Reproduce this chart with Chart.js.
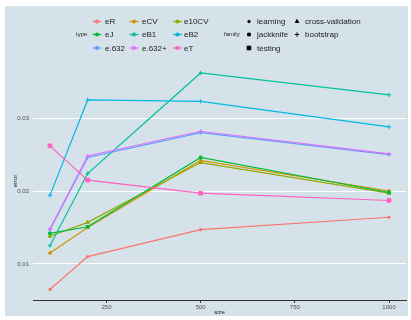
<!DOCTYPE html>
<html>
<head>
<meta charset="utf-8">
<script src="https://cdn.jsdelivr.net/npm/chart.js@4"></script>
<style>
  html, body { margin: 0; padding: 0; background: #fff; }
  canvas { display: block; }
</style>
</head>
<body>
<canvas id="grafico" width="411" height="320"></canvas>
<script>
// dados
const sizes = [100, 200, 500, 1000];
const xTicks = [250, 500, 750, 1000];
const yTicks = [0.01, 0.02, 0.03];

const eR    = [0.0065, 0.0110, 0.0147, 0.0164];
const eCV   = [0.0115, 0.0150, 0.0242, 0.0200];
const e10CV = [0.0138, 0.0157, 0.0239, 0.0197];
const eJ    = [0.0142, 0.0151, 0.0246, 0.0198];
const eB1   = [0.0125, 0.0224, 0.0362, 0.0332];
const eB2   = [0.0194, 0.0325, 0.0323, 0.0288];
const e632  = [0.0147, 0.0246, 0.0280, 0.0250];
const e632p = [0.0148, 0.0248, 0.0282, 0.0251];
const eT    = [0.0262, 0.0215, 0.0197, 0.0187];

const typeNames = ["eR", "eCV", "e10CV", "eJ", "eB1", "eB2", "e.632", "e.632+", "eT"];
const typeValues = [eR, eCV, e10CV, eJ, eB1, eB2, e632, e632p, eT];
const typeFamily = ["learning", "cross-validation", "cross-validation", "jackknife",
  "bootstrap", "bootstrap", "bootstrap", "bootstrap", "testing"];
const familyNames = ["learning", "cross-validation", "jackknife", "bootstrap", "testing"];

const cores = ["#F8766D", "#D39200", "#93AA00", "#00BA38", "#00C19F",
  "#00B9E3", "#619CFF", "#DB72FB", "#FF61C3"];

const estilos = {
  "learning":         { pointStyle: "circle",   radius: 1.2 },
  "cross-validation": { pointStyle: "triangle", radius: 2 },
  "jackknife":        { pointStyle: "rect",     radius: 1.9 },
  "bootstrap":        { pointStyle: "cross",    radius: 2.2 },
  "testing":          { pointStyle: "rect",     radius: 2.6 }
};

const FONTE = "'Liberation Sans', Arial, sans-serif";
const FUNDO = "#d6e2e9";

/* =========================
   FUNDO DO PAINEL
========================= */
const fundoPlugin = {
  id: "fundo",
  beforeDraw(chart) {
    const ctx = chart.ctx;
    ctx.save();
    ctx.fillStyle = FUNDO;
    ctx.fillRect(5, 6, 403, 310);
    ctx.restore();
  }
};

/* =========================
   LEGENDA (type + family)
========================= */
const legendaPlugin = {
  id: "legenda",
  afterDraw(chart) {
    const ctx = chart.ctx;
    const rows = [21.5, 34.5, 48];
    ctx.save();
    ctx.textBaseline = "middle";

    // titulos
    ctx.fillStyle = "#1a1a1a";
    ctx.font = "6px " + FONTE;
    ctx.textAlign = "left";
    ctx.fillText("type", 76, rows[1]);
    ctx.fillText("family", 224, rows[1]);

    // type
    const keyX = [97, 134, 177.5];
    const textX = [105, 142, 184];
    typeNames.forEach((nome, i) => {
      const r = Math.floor(i / 3), c = i % 3;
      const x = keyX[c], y = rows[r];
      ctx.strokeStyle = cores[i];
      ctx.fillStyle = cores[i];
      ctx.lineWidth = 1.2;
      ctx.beginPath();
      ctx.moveTo(x - 4.5, y);
      ctx.lineTo(x + 4.5, y);
      ctx.stroke();
      Chart.helpers.drawPoint(ctx, { pointStyle: "circle", radius: 1.4, borderWidth: 1 }, x, y);
      ctx.fillStyle = "#1a1a1a";
      ctx.font = "8px " + FONTE;
      ctx.fillText(nome, textX[c], y + 0.5);
    });

    // family
    const fKeyX = [249, 297];
    const fTextX = [257, 305];
    familyNames.forEach((nome, i) => {
      const r = Math.floor(i / 2), c = i % 2;
      const x = fKeyX[c], y = rows[r];
      const est = estilos[nome];
      ctx.strokeStyle = "#000";
      ctx.fillStyle = "#000";
      ctx.lineWidth = 1;
      Chart.helpers.drawPoint(ctx, { pointStyle: est.pointStyle, radius: est.radius, borderWidth: 1 }, x, y);
      if (nome === "testing") {
        Chart.helpers.drawPoint(ctx, { pointStyle: "crossRot", radius: 2.2, borderWidth: 0.6 }, x, y);
      }
      ctx.fillStyle = "#1a1a1a";
      ctx.font = "8px " + FONTE;
      ctx.fillText(nome, fTextX[c], y + 0.5);
    });
    ctx.restore();
  }
};

/* =========================
   DATASETS
========================= */
const datasets = typeNames.map((nome, i) => {
  const est = estilos[typeFamily[i]];
  return {
    label: nome,
    data: sizes.map((s, k) => ({ x: s, y: typeValues[i][k] })),
    borderColor: cores[i],
    backgroundColor: cores[i],
    borderWidth: 1.2,
    pointStyle: est.pointStyle,
    pointRadius: est.radius,
    pointBorderWidth: 1,
    pointBorderColor: cores[i],
    pointBackgroundColor: cores[i],
    tension: 0,
    order: typeNames.length - i
  };
});

new Chart(document.getElementById("grafico"), {
  type: "line",
  data: { datasets },
  options: {
    responsive: false,
    animation: false,
    devicePixelRatio: 1,
    layout: { padding: { left: 12, top: 62, right: 2.5, bottom: 4 } },
    plugins: {
      legend: { display: false },
      tooltip: { enabled: false }
    },
    scales: {
      x: {
        type: "linear",
        min: 55,
        max: 1045,
        afterBuildTicks: s => { s.ticks = xTicks.map(v => ({ value: v })); },
        afterFit: s => { s.height = 16; },
        grid: { drawOnChartArea: false, drawTicks: true, tickLength: 3, tickColor: "#333", tickWidth: 1 },
        border: { display: true, color: "#333", width: 1 },
        ticks: { font: { size: 6, family: FONTE }, color: "#4d4d4d", padding: 1, maxRotation: 0, callback: v => String(v) },
        title: { display: true, text: "size", font: { size: 6, family: FONTE }, color: "#1a1a1a", padding: 0 }
      },
      y: {
        type: "linear",
        min: 0.00505,
        max: 0.0377,
        afterBuildTicks: s => { s.ticks = yTicks.map(v => ({ value: v })); },
        afterFit: s => { s.width = 21; },
        grid: { color: "#ffffff", lineWidth: 1, drawTicks: false },
        border: { display: false },
        ticks: { font: { size: 6, family: FONTE }, color: "#4d4d4d", padding: 4, callback: v => v.toFixed(2) },
        title: { display: true, text: "error", font: { size: 6, family: FONTE }, color: "#1a1a1a", padding: 0 }
      }
    }
  },
  plugins: [fundoPlugin, legendaPlugin]
});
</script>
</body>
</html>
